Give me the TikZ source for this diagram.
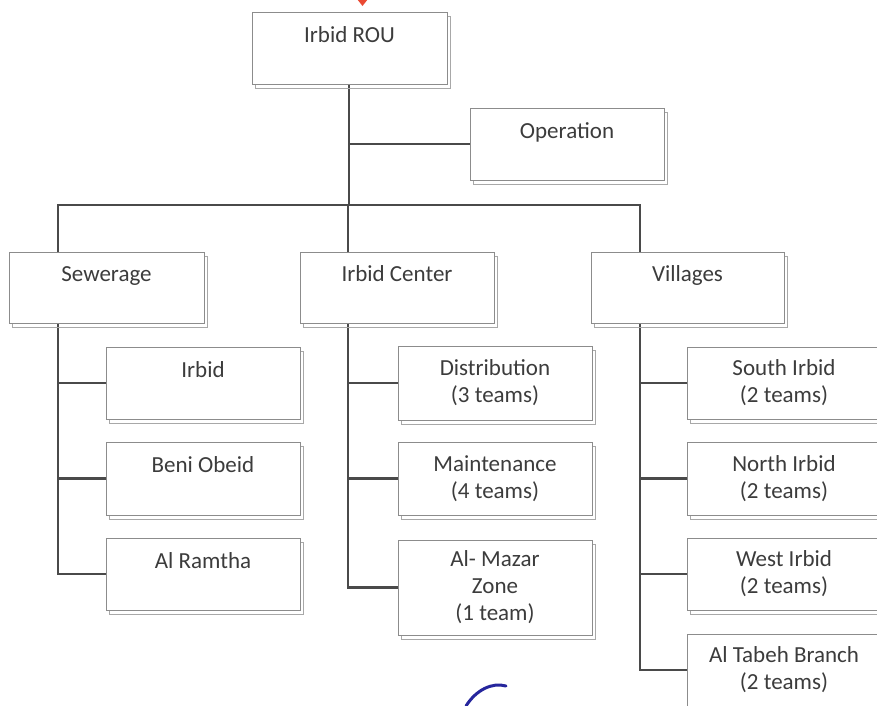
\documentclass[tikz,border=0pt]{standalone}
\usepackage{fontspec}
\setmainfont{Carlito}
\usetikzlibrary{shadows,backgrounds,calc}
\definecolor{txtc}{HTML}{3C3C3C}
\definecolor{boxc}{HTML}{8C8C8C}
\definecolor{linec}{HTML}{4A4A4A}
\definecolor{shc}{HTML}{A8A8A8}
\begin{document}
\begin{tikzpicture}[x=1pt,y=-1pt,
  orgbox/.style={draw=boxc, line width=0.8pt, fill=white, text=txtc, inner sep=0pt, outer sep=0pt,
    minimum width=194pt, minimum height=72pt, anchor=north west, align=center,
    font=\fontsize{23}{27}\selectfont,
    drop shadow={shadow xshift=3.5pt, shadow yshift=-4pt, fill=none, draw=shc, line width=0.8pt, opacity=1}},
  conn/.style={draw=linec, line width=2.5pt, line cap=rect}]
\useasboundingbox (0,0) rectangle (877,705);
\clip (0,0) rectangle (877,705);

% boxes
\node[orgbox, minimum width=195pt] (rou) at (252,12) {Irbid ROU\\~};
\node[orgbox] (op) at (470,108) {Operation\\~};
\node[orgbox, minimum width=195pt, minimum height=71pt] (sew) at (9,252) {Sewerage\\~};
\node[orgbox, minimum height=71pt] (cen) at (300,252) {Irbid Center\\~};
\node[orgbox, minimum width=193pt, minimum height=71pt] (vil) at (591,252) {Villages\\~};

\node[orgbox] (irb) at (106,347) {Irbid\\~};
\node[orgbox, minimum height=73pt] (beni) at (106,442) {Beni Obeid\\~};
\node[orgbox] (ram) at (106,538) {Al Ramtha\\~};

\node[orgbox, minimum height=74pt] (dist) at (398,346) {Distribution\\(3 teams)};
\node[orgbox, minimum height=73pt] (maint) at (398,442) {Maintenance\\(4 teams)};
\node[orgbox, minimum height=95pt] (mazar) at (398,540) {Al- Mazar\\Zone\\(1 team)};

\node[orgbox] (south) at (687,347) {South Irbid\\(2 teams)};
\node[orgbox, minimum height=73pt] (north) at (687,442) {North Irbid\\(2 teams)};
\node[orgbox] (west) at (687,538) {West Irbid\\(2 teams)};
\node[orgbox] (tabeh) at (687,634) {Al Tabeh Branch\\(2 teams)};

% bus coordinates
\coordinate (busL) at (58,205);
\coordinate (busR) at (640,205);
\coordinate (colC) at (348,330);

\begin{scope}[on background layer]
\fill[white] (0,0) rectangle (877,705);
\draw[conn] (rou.south -| 349,0) -- (349,205);
\draw[conn] (349,0 |- op.west) -- (op.west);
\draw[conn] (sew.north -| busL) -- (busL) -- (busR) -- (vil.north -| busR);
\draw[conn] (cen.north -| colC) -- (colC |- busL);
% sewerage branch
\draw[conn] (sew.south -| busL) -- (busL |- ram.west) -- (ram.west);
\draw[conn] (busL |- irb.west) -- (irb.west);
\draw[conn] (busL |- beni.west) -- (beni.west);
% center branch
\draw[conn] (cen.south -| colC) -- (colC |- mazar.west) -- (mazar.west);
\draw[conn] (colC |- dist.west) -- (dist.west);
\draw[conn] (colC |- maint.west) -- (maint.west);
% villages branch
\draw[conn] (vil.south -| busR) -- (busR |- tabeh.west) -- (tabeh.west);
\draw[conn] (busR |- south.west) -- (south.west);
\draw[conn] (busR |- north.west) -- (north.west);
\draw[conn] (busR |- west.west) -- (west.west);
\end{scope}

% red arrow fragment at top
\fill[red!75!orange!90!black, opacity=0.8] (357,-1) -- (368,-1) -- (362.5,6) -- cycle;
% blue scribble at bottom
\draw[blue!55!black, opacity=0.85, line width=3pt, line cap=round] (466,706) .. controls (476,690) and (492,682) .. (506,686);
\end{tikzpicture}
\end{document}
